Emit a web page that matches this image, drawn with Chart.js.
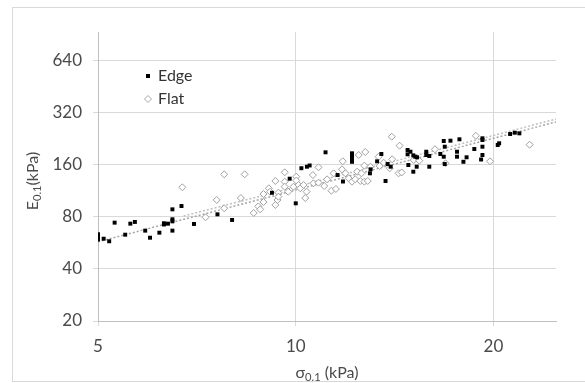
<!DOCTYPE html>
<html lang="en">
<head>
<meta charset="UTF-8">
<title>E0.1 vs sigma0.1</title>
<script src="https://cdn.jsdelivr.net/npm/chart.js@4.4.0/dist/chart.umd.min.js"></script>
<style>
  body { margin: 0; background: #fff; }
</style>
</head>
<body>
<canvas id="chart1" width="585" height="383"></canvas>
<script>
// Edge samples : sigma0.1 (kPa) / E0.1 (kPa)
const edgeSigma = [5.0, 5.0, 5.0, 5.1, 5.2, 5.3, 5.5, 5.6, 5.69, 5.9, 6.0, 6.2, 6.3, 6.3, 6.39, 6.49, 6.49, 6.49, 6.49, 6.7,
  7.0, 7.6, 8.0, 9.2, 9.79, 10.0, 10.2, 10.4, 10.5, 11.1, 11.58, 11.8, 12.18, 12.18, 12.18, 12.18, 12.97, 13.0, 13.3, 13.5,
  13.7, 13.8, 13.95, 14.8, 14.8, 14.95, 15.1, 15.2, 15.3, 14.84, 15.28, 15.1, 15.8, 15.8, 15.97, 15.97, 16.8, 16.86, 16.6, 16.8,
  16.86, 17.2, 17.75, 17.6, 17.6, 18.0, 18.2, 18.7, 19.24, 19.24, 19.24, 19.24, 19.15, 20.3, 20.4, 21.2, 21.55, 21.9];
const edgeE = [63.5, 61.0, 59.3, 59.9, 57.9, 74.2, 63.2, 73.2, 74.9, 66.7, 60.7, 64.9, 73.6, 72.4, 73.2, 88.6, 77.6, 75.5, 66.7, 92.6,
  72.9, 82.9, 76.9, 110.5, 133.3, 96.0, 153.3, 156.4, 159, 189.5, 140, 128.4, 187, 178.8, 171, 167, 143.2, 151, 168, 185.3,
  129.3, 162.1, 156.4, 195.4, 184.5, 191, 182, 178.7, 177.3, 160, 156.4, 146.3, 191, 182.8, 180.4, 156.4, 220.3, 204.2, 185.3, 178.7,
  162.1, 221.2, 225.4, 191, 178.7, 167, 177.3, 198, 228.4, 223.3, 204.2, 182.8, 172.2, 208.9, 213.7, 241.9, 246, 244];

// Flat samples
const flatSigma = [6.72, 7.29, 7.58, 7.78, 7.78, 8.25, 8.36, 8.63, 8.77, 8.83, 8.93, 8.93, 9.1, 9.14, 9.31, 9.31, 9.38, 9.41, 9.41, 9.62,
  9.62, 9.62, 9.74, 9.92, 10.02, 10.02, 10.1, 10.16, 10.28, 10.34, 10.39, 10.62, 10.64, 10.83, 10.83, 11.05, 11.16, 11.33, 11.51, 11.42,
  11.76, 11.79, 11.9, 12.04, 12.18, 12.32, 12.4, 12.47, 12.54, 12.59, 12.72, 12.76, 12.72, 12.87, 12.99, 13.37, 13.42, 13.61, 13.9, 14.02,
  14.0, 14.39, 14.34, 14.5, 15.12, 15.42, 16.29, 16.9, 18.8, 19.76, 22.7];
const flatE = [118.9, 79.7, 100.4, 141.3, 89.9, 103, 141.3, 84.4, 92.2, 88.6, 97.7, 108.7, 117.3, 112.1, 129.3, 93.9, 100.4, 110.6, 104.9, 145.2,
  128.1, 119.8, 112.1, 119.8, 136.9, 130.1, 122.6, 117.3, 122.6, 103, 112.1, 140, 125.4, 126.4, 155.2, 120.9, 132.2, 113.6, 116.2, 143.2,
  151, 168.1, 143.2, 134, 128.1, 132.2, 146.3, 182.8, 129.3, 143.2, 128.1, 190.3, 158.6, 129.3, 156.4, 178.7, 157.9, 165, 153.1, 172.7,
  233.3, 207, 143.2, 144.8, 171, 169.5, 197.3, 163.7, 236.2, 168.1, 209.7];

// power trendlines (end points)
const edgeTrendSigma = [5, 24.9];
const edgeTrendE = [57.5, 284];
const flatTrendSigma = [6.75, 24.9];
const flatTrendE = [81, 295];

const xTicks = [5, 10, 20];
const yTicks = [20, 40, 80, 160, 320, 640];

const toPts = (xs, ys) => xs.map((x, i) => ({ x: x, y: ys[i] }));

const FONT = 'Lato, "Open Sans", sans-serif';
const TXT = '#4a4a4a';

// draws "main" + subscript + rest centred on (0,0)
function subText(ctx, parts, size) {
  let w = 0;
  parts.forEach(p => {
    ctx.font = (p.sub ? size * 0.7 : size) + 'px ' + FONT;
    p.w = ctx.measureText(p.t).width;
    w += p.w;
  });
  let x = -w / 2;
  ctx.textBaseline = 'alphabetic';
  ctx.textAlign = 'left';
  parts.forEach(p => {
    ctx.font = (p.sub ? size * 0.7 : size) + 'px ' + FONT;
    ctx.fillText(p.t, x, p.sub ? size * 0.55 : size * 0.35);
    x += p.w;
  });
}

const decor = {
  id: 'decor',
  beforeDraw(chart) {
    const ctx = chart.ctx;
    ctx.save();
    ctx.strokeStyle = '#d9d9d9';
    ctx.lineWidth = 1;
    ctx.strokeRect(12.5, 7.5, 580, 374);
    ctx.restore();
  },
  afterDraw(chart) {
    const ctx = chart.ctx;
    ctx.save();
    ctx.fillStyle = TXT;
    // x title
    ctx.save();
    ctx.translate(327, 372);
    subText(ctx, [{ t: '\u03c3' }, { t: '0.1', sub: true }, { t: ' (kPa)' }], 16);
    ctx.restore();
    // y title
    ctx.save();
    ctx.translate(32, 181);
    ctx.rotate(-Math.PI / 2);
    subText(ctx, [{ t: 'E' }, { t: '0.1', sub: true }, { t: '(kPa)' }], 16);
    ctx.restore();

    // legend
    ctx.fillStyle = '#000';
    ctx.fillRect(146, 74, 4, 4);
    ctx.strokeStyle = '#a6a6a6';
    ctx.lineWidth = 1;
    ctx.beginPath();
    ctx.moveTo(148, 95.5); ctx.lineTo(151.5, 99); ctx.lineTo(148, 102.5); ctx.lineTo(144.5, 99); ctx.closePath();
    ctx.stroke();
    ctx.fillStyle = '#333';
    ctx.font = '16px ' + FONT;
    ctx.textBaseline = 'middle';
    ctx.textAlign = 'left';
    ctx.fillText('Edge', 158, 76);
    ctx.fillText('Flat', 158, 99);
    ctx.restore();
  }
};

const ctx = document.getElementById('chart1');
new Chart(ctx, {
  type: 'scatter',
  data: {
    datasets: [
      {
        label: 'Edge',
        data: toPts(edgeSigma, edgeE),
        pointStyle: 'rect',
        pointRadius: 2.8,
        backgroundColor: '#000',
        borderColor: '#000',
        borderWidth: 0,
        order: 1
      },
      {
        label: 'Flat',
        data: toPts(flatSigma, flatE),
        pointStyle: 'rectRot',
        pointRadius: 3.5,
        backgroundColor: '#fff',
        borderColor: '#a0a0a0',
        borderWidth: 1,
        order: 2
      },
      {
        label: 'Edge trend',
        data: toPts(edgeTrendSigma, edgeTrendE),
        showLine: true,
        pointRadius: 0,
        borderColor: '#a6a6a6',
        borderWidth: 1.5,
        borderDash: [2, 2],
        order: 3
      },
      {
        label: 'Flat trend',
        data: toPts(flatTrendSigma, flatTrendE),
        showLine: true,
        pointRadius: 0,
        borderColor: '#bfbfbf',
        borderWidth: 1.5,
        borderDash: [2, 2],
        order: 4
      }
    ]
  },
  options: {
    responsive: false,
    animation: false,
    layout: { padding: { left: 0, top: 32, right: 29, bottom: 0 } },
    plugins: {
      legend: { display: false },
      tooltip: { enabled: false }
    },
    scales: {
      x: {
        type: 'logarithmic',
        min: 5,
        max: 24.9,
        afterBuildTicks: s => { s.ticks = xTicks.map(v => ({ value: v })); },
        afterFit: s => { s.height = 62; },
        ticks: {
          callback: v => String(v),
          color: TXT,
          font: { family: FONT, size: 17 },
          padding: 10,
          maxRotation: 0,
          autoSkip: false
        },
        grid: { color: '#d9d9d9', tickLength: 5 },
        border: { color: '#bfbfbf' }
      },
      y: {
        type: 'logarithmic',
        min: 20,
        max: 942,
        afterBuildTicks: s => { s.ticks = yTicks.map(v => ({ value: v })); },
        afterFit: s => { s.width = 98; },
        ticks: {
          callback: v => String(v),
          color: TXT,
          font: { family: FONT, size: 17 },
          padding: 11,
          autoSkip: false
        },
        grid: { color: '#d9d9d9', tickLength: 5 },
        border: { color: '#bfbfbf' }
      }
    }
  },
  plugins: [decor]
});
</script>
</body>
</html>
